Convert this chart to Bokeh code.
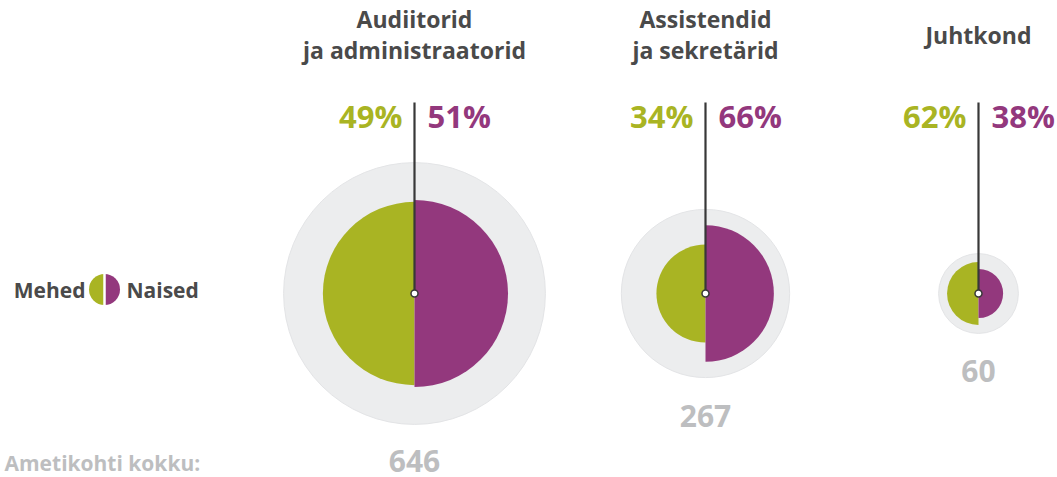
import math
from bokeh.plotting import figure
from bokeh.models import Range1d
from bokeh.core.properties import value
from bokeh.embed import file_html
from bokeh.resources import INLINE

# ---- data ----
groups = ["Audiitorid\nja administraatorid", "Assistendid\nja sekretärid", "Juhtkond"]
totals = [646, 267, 60]
men_pct = [49, 34, 62]
women_pct = [51, 66, 38]
legend_labels = ["Mehed", "Naised"]
total_label = "Ametikohti kokku:"

# ---- style / layout ----
GREEN = "#a9b423"
PURPLE = "#93387d"
DARK = "#4a4a4a"
LIGHT = "#bdbec0"
RING = "#ecedee"
FONT = value("Open Sans")

W, H = 1057, 477
cx = [414, 705, 978]
cy = 293
k = 5.15  # px per sqrt(person)

p = figure(width=W, height=H, output_backend="svg", toolbar_location=None,
           x_range=Range1d(0, W), y_range=Range1d(H, 0),
           x_axis_type=None, y_axis_type=None, min_border=0)
p.grid.visible = False
p.outline_line_color = None
p.background_fill_color = "white"
p.border_fill_color = "white"

R_tot = [k * math.sqrt(t) for t in totals]
R_men = [k * math.sqrt(t * m / 100) for t, m in zip(totals, men_pct)]
R_wom = [k * math.sqrt(t * w / 100) for t, w in zip(totals, women_pct)]
cys = [cy] * len(totals)

p.circle(x=cx, y=cys, radius=R_tot, fill_color=RING, line_color="#e3e4e6", line_width=1)
p.wedge(x=cx, y=cys, radius=R_men, start_angle=math.pi / 2, end_angle=3 * math.pi / 2,
        direction="anticlock", fill_color=GREEN, line_color=None)
p.wedge(x=cx, y=cys, radius=R_wom, start_angle=-math.pi / 2, end_angle=math.pi / 2,
        direction="anticlock", fill_color=PURPLE, line_color=None)

# vertical line and centre marker
p.segment(x0=cx, y0=cys, x1=cx, y1=[102] * len(cx), line_color="#383838", line_width=2.2)
p.scatter(x=cx, y=cys, size=7, fill_color="white", line_color="#383838", line_width=1.5)

# percentages
p.text(x=[c - 12 for c in cx], y=[115] * len(cx), text=[f"{m}%" for m in men_pct],
       text_align="right", text_baseline="middle", text_font=FONT, text_font_style="bold",
       text_font_size="31px", text_color=GREEN)
p.text(x=[c + 13 for c in cx], y=[115] * len(cx), text=[f"{w}%" for w in women_pct],
       text_align="left", text_baseline="middle", text_font=FONT, text_font_style="bold",
       text_font_size="31px", text_color=PURPLE)

# titles
tx, ty, tt = [], [], []
for c, g in zip(cx, groups):
    lines = g.split("\n")
    n = len(lines)
    for i, ln in enumerate(lines):
        tx.append(c)
        ty.append(34 + (i - (n - 1) / 2) * 31)
        tt.append(ln)
p.text(x=tx, y=ty, text=tt, text_align="center", text_baseline="middle", text_font=FONT,
       text_font_style="bold", text_font_size="23px", text_color=DARK)

# totals
p.text(x=cx, y=[min(cy + r + 38, 460) for r in R_tot], text=[str(t) for t in totals],
       text_align="center", text_baseline="middle", text_font=FONT, text_font_style="bold",
       text_font_size="30px", text_color=LIGHT)
p.text(x=[4], y=[462], text=[total_label], text_align="left", text_baseline="middle",
       text_font=FONT, text_font_style="bold", text_font_size="21px", text_color=LIGHT)

# legend
lx, ly, lr = 104, 289, 15.5
p.wedge(x=[lx], y=[ly], radius=lr, start_angle=math.pi / 2, end_angle=3 * math.pi / 2,
        direction="anticlock", fill_color=GREEN, line_color=None)
p.wedge(x=[lx], y=[ly], radius=lr, start_angle=-math.pi / 2, end_angle=math.pi / 2,
        direction="anticlock", fill_color=PURPLE, line_color=None)
p.segment(x0=[lx], y0=[ly - lr - 1], x1=[lx], y1=[ly + lr + 1], line_color="white", line_width=2.5)
p.text(x=[85], y=[289], text=[legend_labels[0]], text_align="right", text_baseline="middle",
       text_font=FONT, text_font_style="bold", text_font_size="21px", text_color=DARK)
p.text(x=[126], y=[289], text=[legend_labels[1]], text_align="left", text_baseline="middle",
       text_font=FONT, text_font_style="bold", text_font_size="21px", text_color=DARK)

open("out.html", "w").write(file_html(p, INLINE))
